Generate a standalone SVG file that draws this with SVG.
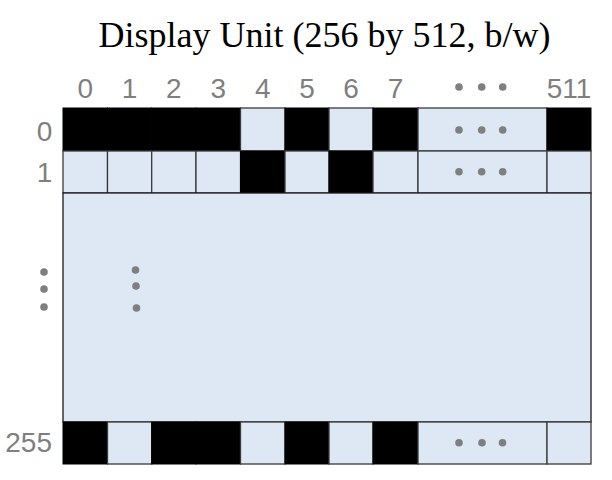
<svg xmlns="http://www.w3.org/2000/svg" width="612" height="480" viewBox="0 0 612 480">
<style>
.title{font-family:"Liberation Serif","Times New Roman",serif;font-size:36px;fill:#000}
.lbl{font-family:"Liberation Sans",Arial,sans-serif;font-size:28px;fill:#7f7f7f}
.on{fill:#000;stroke:#000;stroke-width:1}
.off{fill:#dee8f4;stroke:#3a3a3a;stroke-width:1.3}
.dot{fill:#7f7f7f}
</style>
<rect width="612" height="480" fill="#fff"/>
<text class="title" x="324.5" y="47" text-anchor="middle">Display Unit (256 by 512, b/w)</text>
<g id="col-labels" class="lbl" text-anchor="middle">
<text x="85.3" y="98">0</text>
<text x="129.6" y="98">1</text>
<text x="173.9" y="98">2</text>
<text x="218.2" y="98">3</text>
<text x="262.7" y="98">4</text>
<text x="307" y="98">5</text>
<text x="351" y="98">6</text>
<text x="395.5" y="98">7</text>
<text x="569" y="98">511</text>
</g>
<g id="col-dots" class="dot">
<circle cx="459" cy="87" r="3.8"/><circle cx="481.7" cy="87" r="3.8"/><circle cx="502.7" cy="87" r="3.8"/>
</g>
<g id="row-labels" class="lbl" text-anchor="middle">
<text x="44.5" y="141">0</text>
<text x="44.5" y="182">1</text>
<text x="52" y="452" text-anchor="end">255</text>
</g>
<g id="row-dots" class="dot">
<circle cx="44" cy="272" r="3.8"/><circle cx="44" cy="289" r="3.8"/><circle cx="44" cy="307" r="3.8"/>
</g>
<g id="row0">
<rect class="on" x="63" y="108" width="44.5" height="43"/>
<rect class="on" x="107.5" y="108" width="44.2" height="43"/>
<rect class="on" x="151.7" y="108" width="44.3" height="43"/>
<rect class="on" x="196" y="108" width="44.5" height="43"/>
<rect class="off" x="240.5" y="108" width="44.5" height="43"/>
<rect class="on" x="285" y="108" width="44" height="43"/>
<rect class="off" x="329" y="108" width="44" height="43"/>
<rect class="on" x="373" y="108" width="45" height="43"/>
<rect class="off" x="418" y="108" width="129" height="43"/>
<rect class="on" x="547" y="108" width="44" height="43"/>
<g class="dot"><circle cx="459" cy="130" r="3.8"/><circle cx="481.7" cy="130" r="3.8"/><circle cx="502.7" cy="130" r="3.8"/></g>
</g>
<g id="row1">
<rect class="off" x="63" y="151" width="44.5" height="42"/>
<rect class="off" x="107.5" y="151" width="44.2" height="42"/>
<rect class="off" x="151.7" y="151" width="44.3" height="42"/>
<rect class="off" x="196" y="151" width="44.5" height="42"/>
<rect class="on" x="240.5" y="151" width="44.5" height="42"/>
<rect class="off" x="285" y="151" width="44" height="42"/>
<rect class="on" x="329" y="151" width="44" height="42"/>
<rect class="off" x="373" y="151" width="45" height="42"/>
<rect class="off" x="418" y="151" width="129" height="42"/>
<rect class="off" x="547" y="151" width="44" height="42"/>
<g class="dot"><circle cx="459" cy="171.7" r="3.8"/><circle cx="481.7" cy="171.7" r="3.8"/><circle cx="502.7" cy="171.7" r="3.8"/></g>
</g>
<g id="middle">
<rect class="off" x="63" y="193" width="528" height="229" style="stroke:#1a1a1a"/>
<g class="dot"><circle cx="135.5" cy="270" r="3.8"/><circle cx="136" cy="286" r="3.8"/><circle cx="136.5" cy="308" r="3.8"/></g>
</g>
<g id="row255">
<rect class="on" x="63" y="422" width="44.5" height="42"/>
<rect class="off" x="107.5" y="422" width="44.2" height="42"/>
<rect class="on" x="151.7" y="422" width="44.3" height="42"/>
<rect class="on" x="196" y="422" width="44.5" height="42"/>
<rect class="off" x="240.5" y="422" width="44.5" height="42"/>
<rect class="on" x="285" y="422" width="44" height="42"/>
<rect class="off" x="329" y="422" width="44" height="42"/>
<rect class="on" x="373" y="422" width="45" height="42"/>
<rect class="off" x="418" y="422" width="129" height="42"/>
<rect class="off" x="547" y="422" width="44" height="42"/>
<g class="dot"><circle cx="459" cy="442.7" r="3.8"/><circle cx="482" cy="442.7" r="3.8"/><circle cx="502.5" cy="442.7" r="3.8"/></g>
</g>
</svg>
